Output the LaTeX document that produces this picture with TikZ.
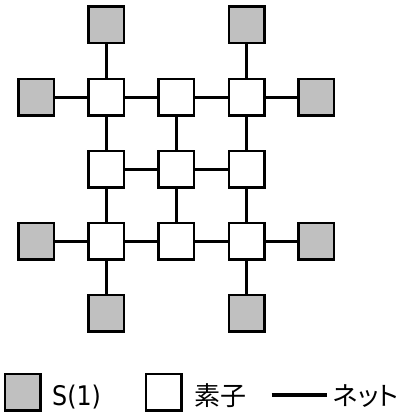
\documentclass[tikz,border=0pt]{standalone}
\usepackage{fontspec}
\setmainfont{DejaVu Sans}[FakeStretch=0.88]
\newfontfamily\jpfont[RawFeature={+palt}]{Noto Sans CJK JP}
\definecolor{cellgray}{HTML}{C0C0C0}
\begin{document}
\begin{tikzpicture}[x=1pt,y=-1pt,
  cellbox/.style={draw=black,line width=2.5pt,minimum width=35.5pt,minimum height=36.5pt,inner sep=0pt,fill=white},
  sbox/.style={cellbox,fill=cellgray},
  netline/.style={line width=3.2pt,black},
  lbl/.style={anchor=base west,inner sep=0pt}]
\useasboundingbox (0,0) rectangle (401,414);
% elements
\node[cellbox] (e11) at (106.3,97.2) {};
\node[cellbox] (e12) at (176.3,97.2) {};
\node[cellbox] (e13) at (246.7,97.2) {};
\node[cellbox] (e21) at (106.3,169.3) {};
\node[cellbox] (e22) at (176.3,169.3) {};
\node[cellbox] (e23) at (246.7,169.3) {};
\node[cellbox] (e31) at (106.3,241.3) {};
\node[cellbox] (e32) at (176.3,241.3) {};
\node[cellbox] (e33) at (246.7,241.3) {};
% S(1)
\node[sbox] (t1) at (106.3,24.7) {};
\node[sbox] (t3) at (246.7,24.7) {};
\node[sbox] (l1) at (36.2,97.2) {};
\node[sbox] (r1) at (316.3,97.2) {};
\node[sbox] (l3) at (36.2,241.3) {};
\node[sbox] (r3) at (316.3,241.3) {};
\node[sbox] (b1) at (106.3,313) {};
\node[sbox] (b3) at (246.7,313) {};
% nets
\draw[netline] (l1) -- (e11);
\draw[netline] (e11) -- (e12);
\draw[netline] (e12) -- (e13);
\draw[netline] (e13) -- (r1);
\draw[netline] (e21) -- (e22);
\draw[netline] (e22) -- (e23);
\draw[netline] (l3) -- (e31);
\draw[netline] (e31) -- (e32);
\draw[netline] (e32) -- (e33);
\draw[netline] (e33) -- (r3);
\draw[netline] (t1) -- (e11);
\draw[netline] (e11) -- (e21);
\draw[netline] (e21) -- (e31);
\draw[netline] (e31) -- (b1);
\draw[netline] (e12) -- (e22);
\draw[netline] (e22) -- (e32);
\draw[netline] (t3) -- (e13);
\draw[netline] (e13) -- (e23);
\draw[netline] (e23) -- (e33);
\draw[netline] (e33) -- (b3);
% legend
\node[sbox] (lgS) at (22.5,392) {};
\node[lbl,font=\fontsize{27}{30}\selectfont] (lgStxt) at (52,405) {S(1)};
\node[cellbox] (lgE) at (163.5,392) {};
\node[lbl,font=\fontsize{26}{30}\jpfont] (lgEtxt) at (194,405) {素子};
\coordinate (lgNa) at (271.7,395);
\coordinate (lgNb) at (326.7,395);
\draw[line width=4.5pt] (lgNa) -- (lgNb);
\node[lbl,font=\fontsize{26}{30}\jpfont] (lgNtxt) at (333,405) {ネット};
\end{tikzpicture}
\end{document}
